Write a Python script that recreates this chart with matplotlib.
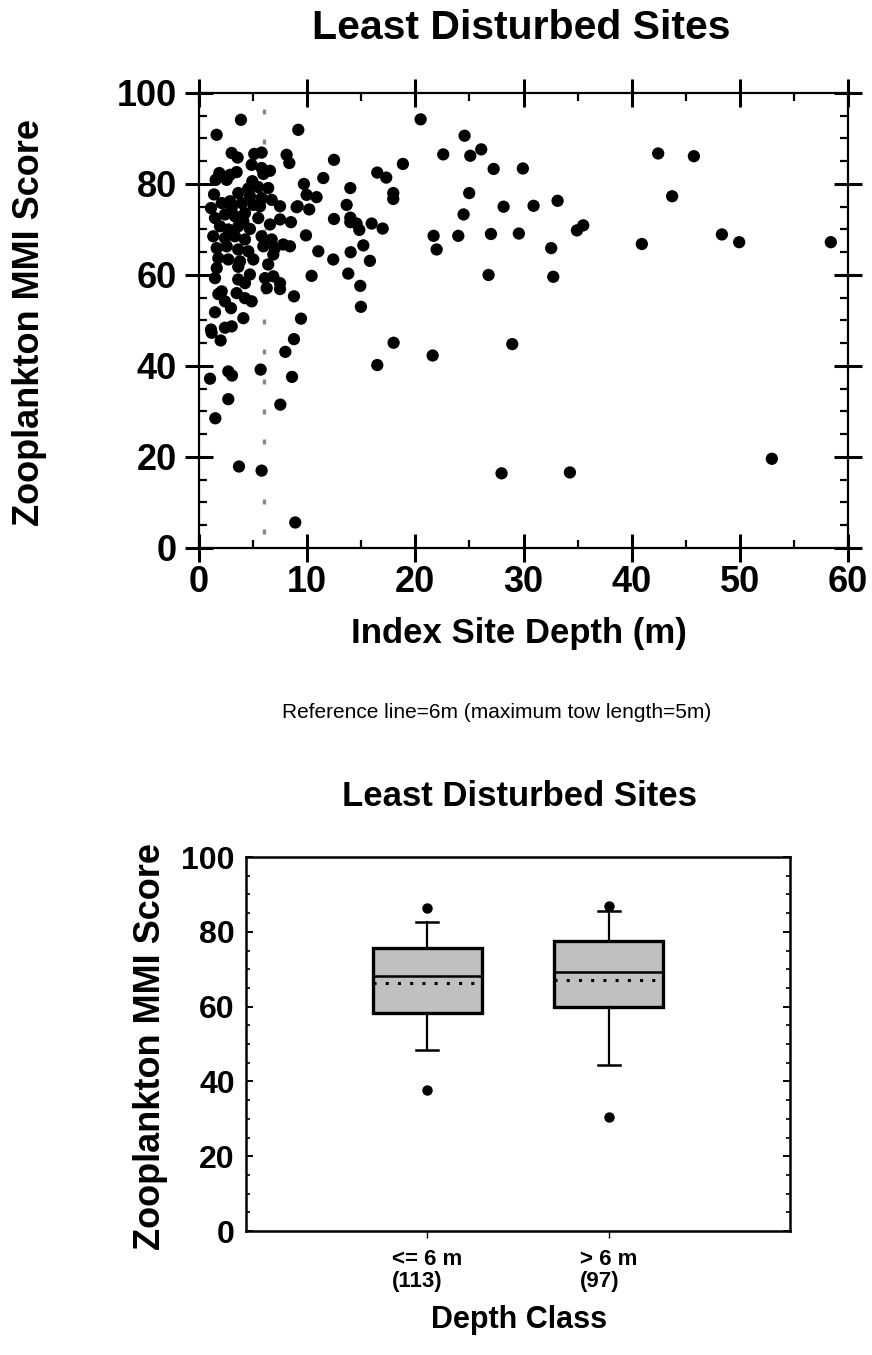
import matplotlib
matplotlib.use("Agg")
import matplotlib.pyplot as plt
from matplotlib.ticker import MultipleLocator

plt.rcParams['font.family'] = ['Liberation Sans', 'DejaVu Sans']

# depth (m) and MMI score
depth = [3.88, 1.63, 9.18, 3.02, 3.57, 5.11, 5.79, 8.1, 8.35, 4.87, 5.79, 6.56, 5.95, 3.48, 2.87,
         1.88, 1.54, 2.56, 4.93, 5.48, 6.4, 4.56, 3.63, 1.39,
         1.11, 2.10, 2.87, 3.02, 3.95, 4.71, 5.02, 5.79, 6.72, 5.64, 7.49, 9.03,
         1.48, 2.4, 3.33, 4.25, 4.10, 5.48, 6.56, 7.49, 8.5,
         1.94, 2.71, 3.63, 4.71,
         1.32, 2.40, 3.33, 4.25, 5.79, 6.72,
         1.64, 2.56, 3.63, 4.56, 5.95, 7.02, 7.79, 8.41,
         1.79, 2.71, 3.79, 5.02, 6.87,
         1.64, 3.63, 6.4,
         1.48, 3.63, 4.25, 4.71, 6.1, 6.87, 7.49, 6.26, 7.49,
         2.10, 1.79, 3.48, 4.25, 4.87, 2.40,
         1.48, 2.96, 4.10, 3.02, 2.40, 1.11, 1.17, 2.0,
         9.43, 8.78, 7.98, 5.70, 2.71, 3.05, 1.02, 8.60, 2.71, 7.52, 1.51, 3.70, 5.79, 8.90,
         12.48, 11.49, 9.70, 9.95, 10.87, 9.12, 10.19, 12.48, 9.89, 11.03, 12.41, 10.41, 8.78,
         20.49, 24.55, 22.58, 25.08, 26.09, 18.85, 16.48, 17.31, 27.24, 29.94,
         13.99, 17.96, 17.96, 24.98, 13.65, 28.16, 30.93, 33.15, 24.46, 13.99,
         13.99, 14.57, 14.82, 15.96, 16.98, 21.69, 21.97, 23.97, 26.99, 29.57,
         34.94, 35.52, 32.56, 40.94, 15.19, 14.02, 15.80, 13.80, 14.91, 14.97,
         26.77, 32.75, 17.99, 16.48, 21.6, 28.96, 27.97, 34.29,
         42.45, 45.75, 43.74, 48.34, 49.94, 58.41, 52.96]
score = [94.1, 90.8, 91.9, 86.8, 85.8, 86.6, 86.9, 86.4, 84.6, 84.2, 83.5, 82.9, 82.2, 82.6, 82.0,
         82.4, 80.9, 80.9, 80.6, 79.3, 79.1, 79.0, 78.0, 77.7,
         74.7, 75.8, 76.2, 74.7, 75.8, 77.3, 75.4, 76.9, 76.5, 75.1, 75.1, 74.9,
         72.5, 73.3, 72.9, 73.6, 71.8, 72.5, 71.1, 72.2, 71.6,
         70.7, 70.0, 70.7, 70.1,
         68.5, 68.1, 68.5, 67.8, 68.5, 67.8,
         65.9, 66.3, 65.6, 65.2, 66.3, 65.9, 66.7, 66.3,
         63.7, 63.4, 63.0, 63.4, 64.5,
         61.5, 61.8, 62.3,
         59.3, 59.0, 58.2, 60.1, 59.3, 59.7, 58.2, 57.1, 56.9,
         56.4, 55.8, 56.0, 54.9, 54.2, 54.2,
         51.8, 52.7, 50.5, 48.7, 48.4, 48.0, 47.3, 45.6,
         50.4, 45.9, 43.1, 39.2, 38.8, 37.9, 37.2, 37.6, 32.7, 31.5, 28.5, 17.9, 17.0, 5.6,
         85.3, 81.3, 80.0, 77.6, 77.1, 75.1, 74.4, 72.3, 68.7, 65.2, 63.4, 59.8, 55.3,
         94.2, 90.6, 86.5, 86.2, 87.6, 84.4, 82.5, 81.4, 83.3, 83.4,
         79.1, 78.0, 76.7, 78.0, 75.4, 75.0, 75.2, 76.3, 73.3, 72.6,
         71.6, 71.3, 69.9, 71.3, 70.2, 68.6, 65.6, 68.6, 69.0, 69.1,
         69.8, 70.9, 65.9, 66.8, 66.5, 65.0, 63.1, 60.3, 57.6, 53.0,
         60.0, 59.6, 45.1, 40.2, 42.3, 44.8, 16.4, 16.6,
         86.7, 86.1, 77.3, 68.9, 67.2, 67.2, 19.6]

ref_depth = 6

# box plot summary per depth class
classes = ['<= 6 m\n(113)', '> 6 m\n(97)']
q1 = [58.4, 59.9]
q3 = [75.8, 77.5]
medians = [68.1, 69.2]
means = [66.2, 67.0]
whislo = [48.5, 44.4]
whishi = [82.5, 85.5]
fliers = [[86.4, 37.8], [86.9, 30.4]]

fig = plt.figure(figsize=(8.72, 13.55), dpi=100)

# ---- top: scatter ----
ax = fig.add_axes([0.2282, 0.5956, 0.7443, 0.3358])
ax.scatter(depth, score, s=78, color='black', edgecolors='none', zorder=3)
ax.plot([ref_depth, ref_depth], [3, 98], color='#888888', lw=2.4,
        dashes=(1.5, 7.5), zorder=2)
ax.set_xlim(0, 60)
ax.set_ylim(0, 100)
ax.xaxis.set_major_locator(MultipleLocator(10))
ax.xaxis.set_minor_locator(MultipleLocator(5))
ax.yaxis.set_major_locator(MultipleLocator(20))
ax.yaxis.set_minor_locator(MultipleLocator(5))
ax.tick_params(which='major', direction='inout', length=20, width=2.2,
               top=True, right=True, labelsize=26, pad=2)
ax.tick_params(axis='y', which='major', pad=6)
ax.tick_params(which='minor', direction='in', length=6, width=1.6,
               top=True, right=True)
for lab in ax.get_xticklabels() + ax.get_yticklabels():
    lab.set_fontweight('bold')
for sp in ax.spines.values():
    sp.set_linewidth(1.6)

fig.text(521 / 872, 1 - 28 / 1355, 'Least Disturbed Sites', ha='center', va='center',
         fontsize=29.5, fontweight='bold')
fig.text(519 / 872, 1 - 634 / 1355, 'Index Site Depth (m)', ha='center', va='center',
         fontsize=25, fontweight='bold')
fig.text(30 / 872, 1 - 322 / 1355, 'Zooplankton MMI Score', ha='center', va='center',
         rotation=90, fontsize=26, fontweight='bold')
fig.text(497 / 872, 1 - 712 / 1355, 'Reference line=6m (maximum tow length=5m)',
         ha='center', va='center', fontsize=15)

# ---- bottom: box plot ----
bx = fig.add_axes([0.2821, 0.0915, 0.6239, 0.2760])
stats = []
for i in range(len(classes)):
    stats.append(dict(med=medians[i], q1=q1[i], q3=q3[i], whislo=whislo[i],
                      whishi=whishi[i], mean=means[i], fliers=fliers[i]))
bx.bxp(stats, positions=[1, 2], widths=0.6, patch_artist=True, showmeans=True,
       meanline=True, showcaps=True,
       boxprops=dict(facecolor='#c0c0c0', edgecolor='black', linewidth=2.4),
       medianprops=dict(color='black', linewidth=1.8),
       meanprops=dict(color='black', linewidth=2.2, linestyle=(0, (1, 3))),
       whiskerprops=dict(color='black', linewidth=1.6),
       capprops=dict(color='black', linewidth=1.8), capwidths=0.12,
       flierprops=dict(marker='o', markerfacecolor='black', markeredgecolor='black',
                       markersize=6.5))
bx.set_xlim(0, 3)
bx.set_ylim(0, 100)
bx.set_xticks([1, 2])
bx.set_xticklabels(classes, fontsize=16, fontweight='bold', multialignment='left',
                   linespacing=1.05)
bx.yaxis.set_major_locator(MultipleLocator(20))
bx.yaxis.set_minor_locator(MultipleLocator(5))
bx.tick_params(axis='y', which='major', direction='in', length=5, width=1.4,
               right=True, labelsize=23, pad=8)
bx.tick_params(axis='y', which='minor', direction='in', length=3, width=1.2, right=True)
bx.tick_params(axis='x', which='major', direction='out', length=5, width=1.0, pad=8)
for lab in bx.get_yticklabels():
    lab.set_fontweight('bold')
for sp in bx.spines.values():
    sp.set_linewidth(1.8)

fig.text(520 / 872, 1 - 797 / 1355, 'Least Disturbed Sites', ha='center', va='center',
         fontsize=25, fontweight='bold')
fig.text(150 / 872, 1 - 1047 / 1355, 'Zooplankton MMI Score', ha='center', va='center',
         rotation=90, fontsize=26, fontweight='bold')
fig.text(519 / 872, 1 - 1320 / 1355, 'Depth Class', ha='center', va='center',
         fontsize=22, fontweight='bold')

fig.savefig('out.png', dpi=100)
